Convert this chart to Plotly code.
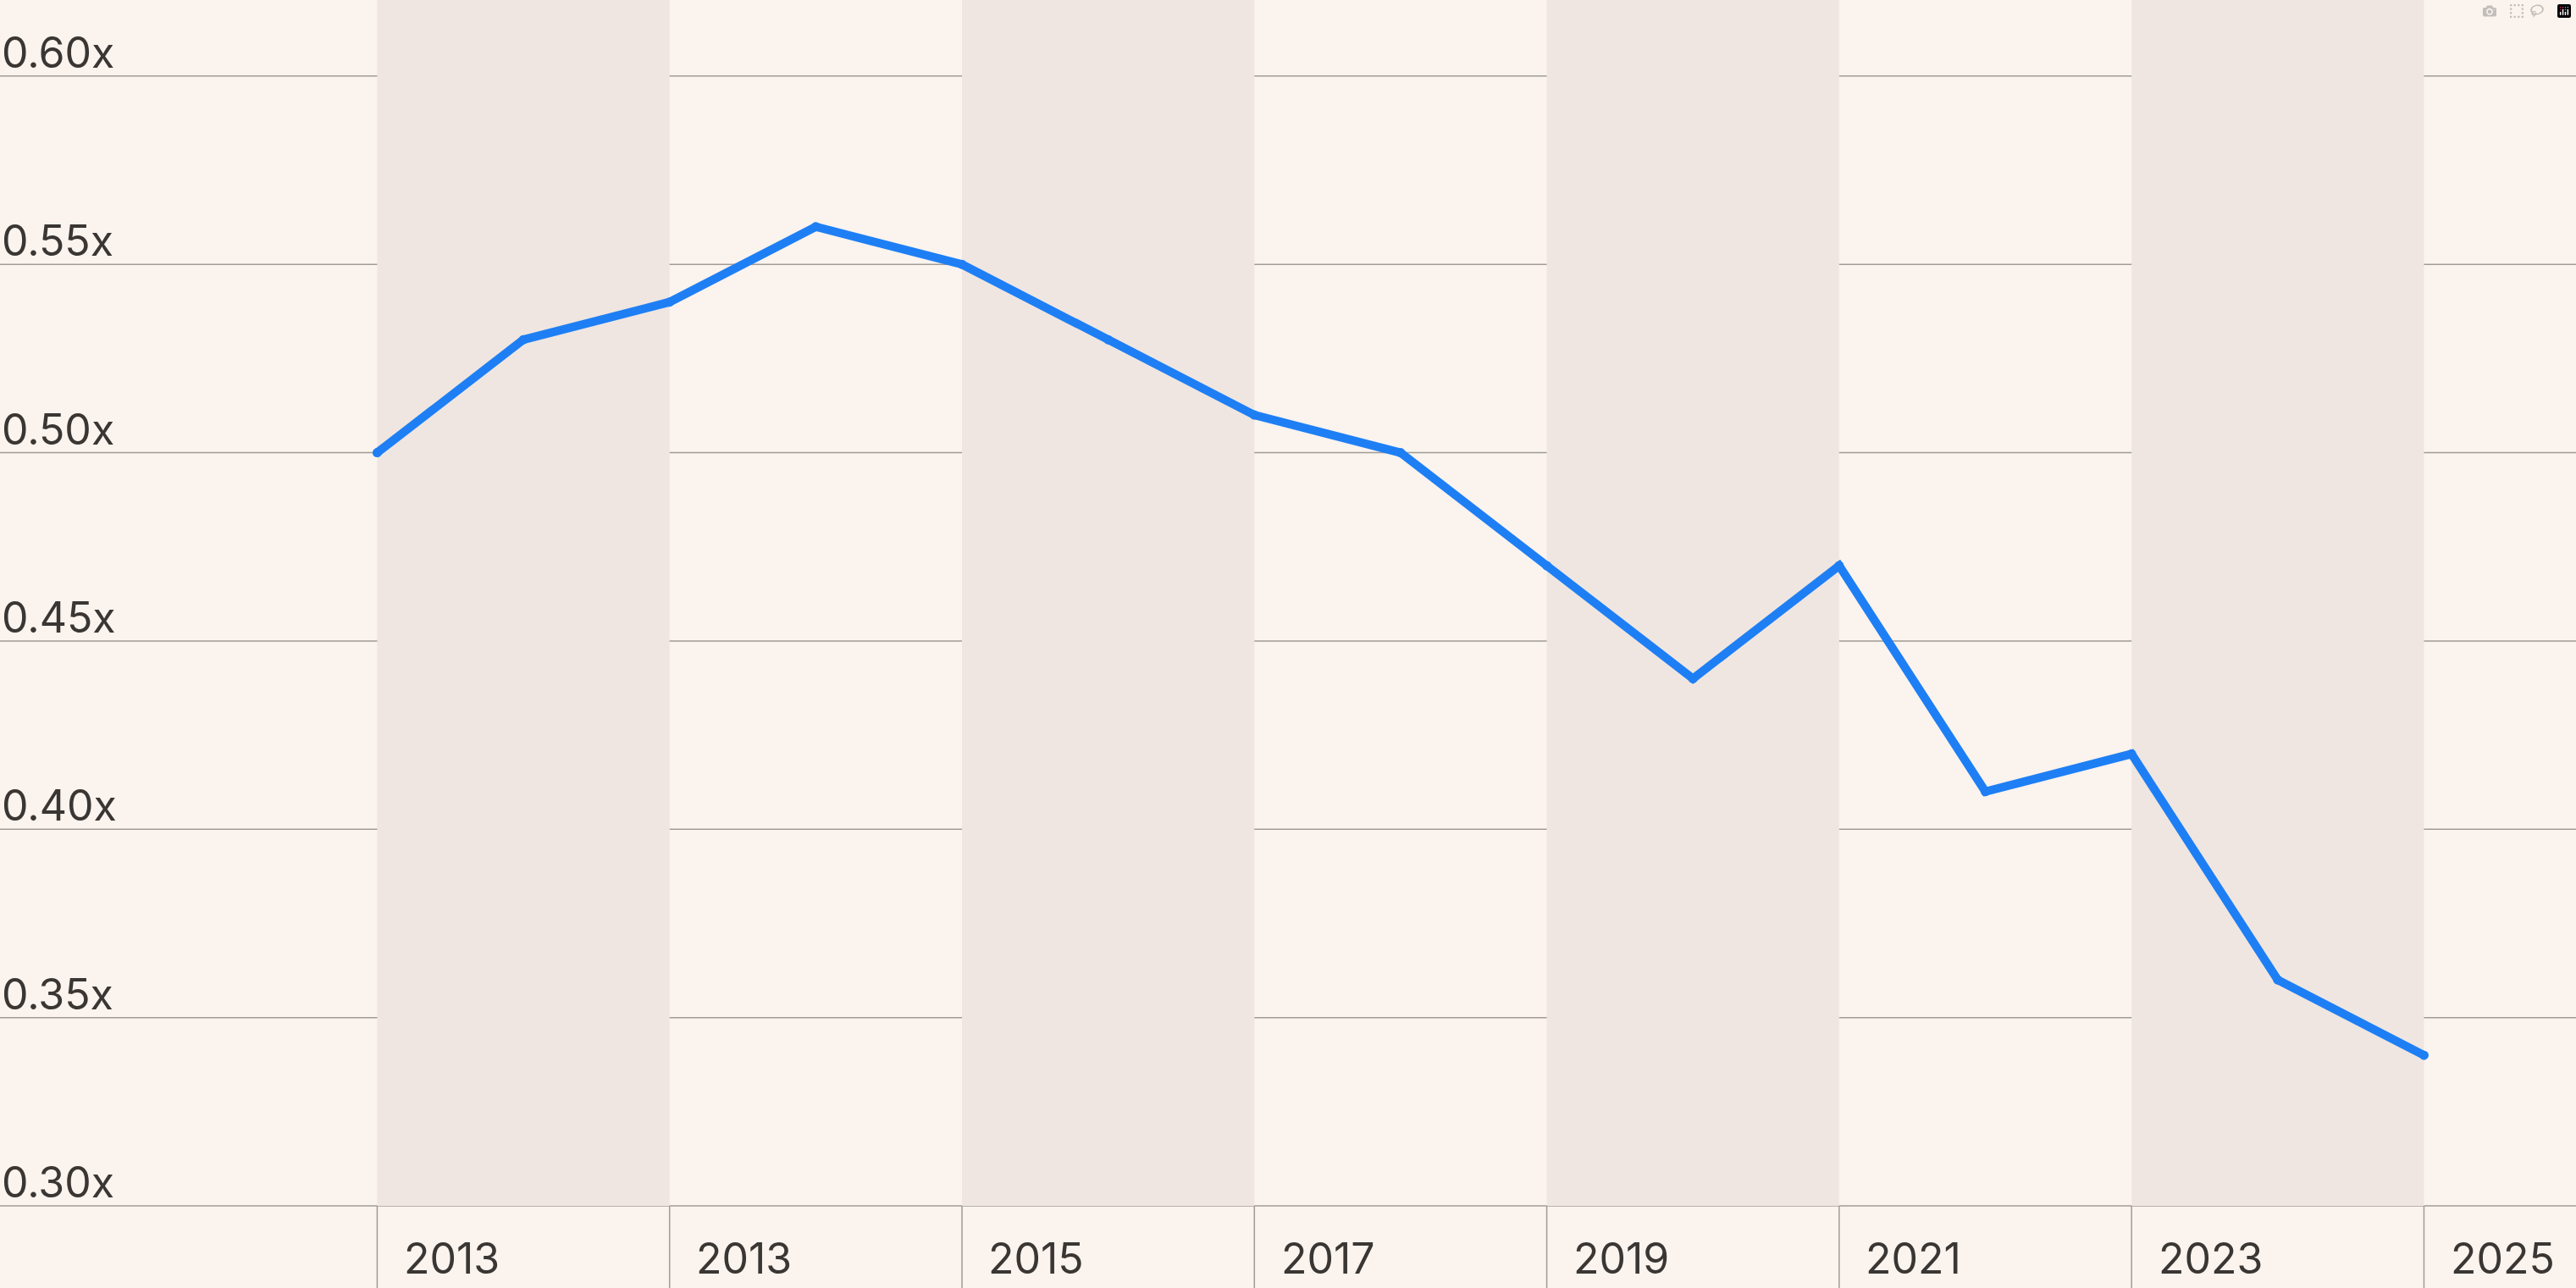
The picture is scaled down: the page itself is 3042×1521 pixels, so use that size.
import plotly.graph_objects as go

# half-year steps, index 0 = first band edge
x_idx = list(range(15))
ratio = [0.500, 0.530, 0.540, 0.560, 0.550, 0.530, 0.510, 0.500,
         0.470, 0.440, 0.470, 0.410, 0.420, 0.360, 0.340]
year_labels = ["2013", "2013", "2015", "2017", "2019", "2021", "2023", "2025"]
y_ticks = [0.30, 0.35, 0.40, 0.45, 0.50, 0.55, 0.60]

bg = "#FAF3EE"
band = "#EFE6E1"
txt = "#3a3633"

fig = go.Figure()
fig.add_trace(go.Scatter(
    x=x_idx, y=ratio, mode="lines+markers",
    line=dict(color="#1E7FF5", width=10),
    marker=dict(size=11, color="#1E7FF5"),
    hoverinfo="skip",
))

shapes = []
# alternating bands
for i in range(0, 14, 4):
    shapes.append(dict(type="rect", xref="x", yref="y", x0=i, x1=i + 2,
                       y0=0.30, y1=0.70, fillcolor=band, line_width=0, layer="below"))
# horizontal grid lines
for v in y_ticks:
    shapes.append(dict(type="line", xref="paper", yref="y", x0=0, x1=1, y0=v, y1=v,
                       line=dict(color="#A19B96", width=1.5), layer="below"))
# tick separators below axis
for i in range(0, 15, 2):
    shapes.append(dict(type="line", xref="x", yref="y", x0=i, x1=i, y0=0.30, y1=0.27,
                       line=dict(color="#A19B96", width=1.5), layer="below"))

ann = []
for v in y_ticks:
    ann.append(dict(x=0, xref="paper", y=v, yref="y", text=f"{v:.2f}x",
                    showarrow=False, xanchor="left", yanchor="bottom", yshift=-4))
for k, lab in enumerate(year_labels):
    ann.append(dict(x=2 * k + 0.17, xref="x", y=0.2785, yref="y", text=lab,
                    showarrow=False, xanchor="left", yanchor="bottom", yshift=2))

fig.update_layout(
    width=3042, height=1521,
    margin=dict(l=0, r=0, t=0, b=0),
    paper_bgcolor=bg, plot_bgcolor=bg,
    showlegend=False,
    shapes=shapes, annotations=ann,
    font=dict(family="Inter", size=50, color=txt),
    xaxis=dict(range=[-2.58, 15.04], visible=False, fixedrange=True),
    yaxis=dict(range=[0.2782, 0.6202], visible=False, fixedrange=True),
)

fig.write_html("out.html",
               post_script="document.body.style.margin='0';document.body.style.overflow='hidden';")
